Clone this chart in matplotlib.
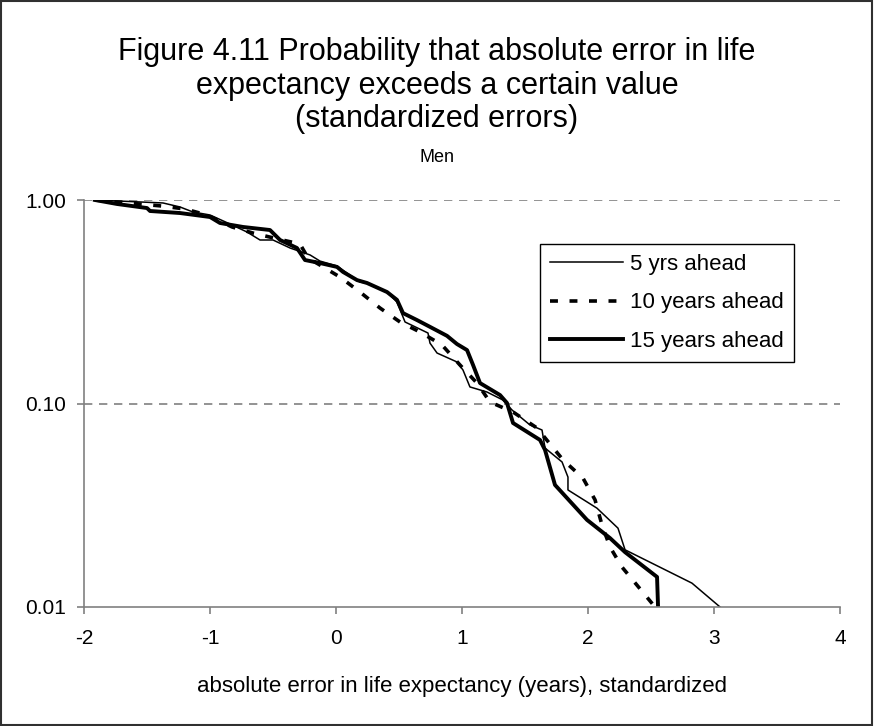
import matplotlib
matplotlib.use("Agg")
import matplotlib.pyplot as plt
from matplotlib.patches import Rectangle
from matplotlib.ticker import FixedLocator, FormatStrFormatter, NullLocator

plt.rcParams["font.family"] = ["Liberation Sans", "DejaVu Sans"]
plt.rcParams["axes.unicode_minus"] = False

# standardized absolute error (x) vs probability of exceeding it (y)
x_5yrs = [-1.913, -1.373, -1.238, -1.135, -1.0, -0.841, -0.706, -0.603, -0.5,
          -0.365, -0.206, -0.127, 0.008, 0.190, 0.246, 0.405, 0.484, 0.548,
          0.730, 0.746, 0.802, 0.960, 1.008, 1.063, 1.198, 1.325, 1.397,
          1.444, 1.540, 1.635, 1.659, 1.794, 1.841, 1.841, 2.071, 2.238,
          2.294, 2.825, 3.048]
p_5yrs = [1.0, 0.967, 0.924, 0.873, 0.844, 0.762, 0.696, 0.636, 0.636,
          0.581, 0.537, 0.501, 0.474, 0.395, 0.391, 0.353, 0.315, 0.2515,
          0.222, 0.198, 0.177, 0.160, 0.146, 0.1206, 0.1139, 0.104, 0.0929,
          0.0878, 0.0784, 0.0741, 0.0604, 0.0516, 0.0435, 0.0376, 0.0306,
          0.0244, 0.0191, 0.0131, 0.01]

x_10yrs = [-1.913, -1.381, -1.198, -1.024, -0.825, -0.659, -0.460, -0.286,
           -0.222, -0.127, 0.032, 0.190, 0.349, 0.508, 0.667, 0.841, 0.984,
           1.119, 1.222, 1.405, 1.595, 1.802, 1.960, 2.056, 2.111, 2.175,
           2.270, 2.389, 2.532]
p_10yrs = [1.0, 0.934, 0.903, 0.844, 0.737, 0.688, 0.643, 0.608, 0.519,
           0.479, 0.418, 0.353, 0.2946, 0.2515, 0.2245, 0.194, 0.1546, 0.126,
           0.1017, 0.0908, 0.0758, 0.0528, 0.043, 0.0336, 0.0253, 0.0197,
           0.0157, 0.0128, 0.01]

x_15yrs = [-1.913, -1.738, -1.500, -1.476, -1.238, -1.0, -0.921, -0.738,
           -0.524, -0.444, -0.310, -0.246, -0.127, 0.008, 0.056, 0.167, 0.246,
           0.405, 0.484, 0.532, 0.643, 0.746, 0.881, 0.960, 1.040, 1.087,
           1.143, 1.302, 1.357, 1.405, 1.619, 1.659, 1.738, 1.992, 2.175,
           2.294, 2.548, 2.556]
p_15yrs = [1.0, 0.956, 0.913, 0.883, 0.863, 0.825, 0.771, 0.737, 0.712,
           0.636, 0.581, 0.507, 0.490, 0.469, 0.443, 0.404, 0.391, 0.353,
           0.323, 0.278, 0.257, 0.238, 0.215, 0.196, 0.183, 0.155, 0.126,
           0.110, 0.1006, 0.0802, 0.0662, 0.0591, 0.0398, 0.0268, 0.0218,
           0.0186, 0.01405, 0.01]

x_ticks = [-2, -1, 0, 1, 2, 3, 4]
y_ticks = [0.01, 0.10, 1.00]

title_lines = [
    "Figure 4.11 Probability that absolute error in life",
    "expectancy exceeds a certain value",
    "(standardized errors)",
]

fig = plt.figure(figsize=(8.74, 7.26), dpi=100)
ax = fig.add_axes([84 / 874, 1 - 607 / 726, 756 / 874, 407 / 726])

ax.plot(x_5yrs, p_5yrs, color="black", linewidth=1.1, label="5 yrs ahead")
ax.plot(x_10yrs, p_10yrs, color="black", linewidth=2.6,
        dashes=(2.2, 3.2), label="10 years ahead")
ax.plot(x_15yrs, p_15yrs, color="black", linewidth=2.8,
        label="15 years ahead")

ax.set_yscale("log")
ax.set_xlim(-2, 4)
ax.set_ylim(0.01, 1.0)
ax.xaxis.set_major_locator(FixedLocator(x_ticks))
ax.yaxis.set_major_locator(FixedLocator(y_ticks))
ax.yaxis.set_minor_locator(NullLocator())
ax.yaxis.set_major_formatter(FormatStrFormatter("%.2f"))

for value in [0.10, 1.00]:
    ax.axhline(value, color="#808080", linewidth=1.2, dashes=(5, 4), zorder=0)

for side in ["top", "right"]:
    ax.spines[side].set_visible(False)
for side in ["left", "bottom"]:
    ax.spines[side].set_color("#808080")
    ax.spines[side].set_linewidth(1.2)

ax.tick_params(axis="both", colors="#808080", labelcolor="black",
               labelsize=15, length=5, width=1.2)
ax.tick_params(axis="x", pad=11)
ax.tick_params(axis="y", pad=8)

ax.set_xlabel("absolute error in life expectancy (years), standardized",
              fontsize=16, labelpad=20)

for line, y_px in zip(title_lines, [52, 86, 119]):
    fig.text(0.5, 1 - y_px / 726, line, ha="center", va="center", fontsize=22)
fig.text(0.5, 1 - 157 / 726, "Men", ha="center", va="center", fontsize=13)

legend = ax.legend(
    loc="upper left",
    bbox_to_anchor=(540 / 874, 1 - 244 / 726),
    bbox_transform=fig.transFigure,
    borderaxespad=0,
    fontsize=16,
    handlelength=3.3,
    handletextpad=0.3,
    labelspacing=0.78,
    borderpad=0.45,
    fancybox=False,
    framealpha=1,
    edgecolor="black",
)
legend.get_frame().set_linewidth(1.0)

fig.patches.append(Rectangle((0.001, 0.001), 0.997, 0.997,
                             transform=fig.transFigure, fill=False,
                             edgecolor="#303030", linewidth=1.5))

fig.savefig("out.png", dpi=100)
plt.close(fig)
